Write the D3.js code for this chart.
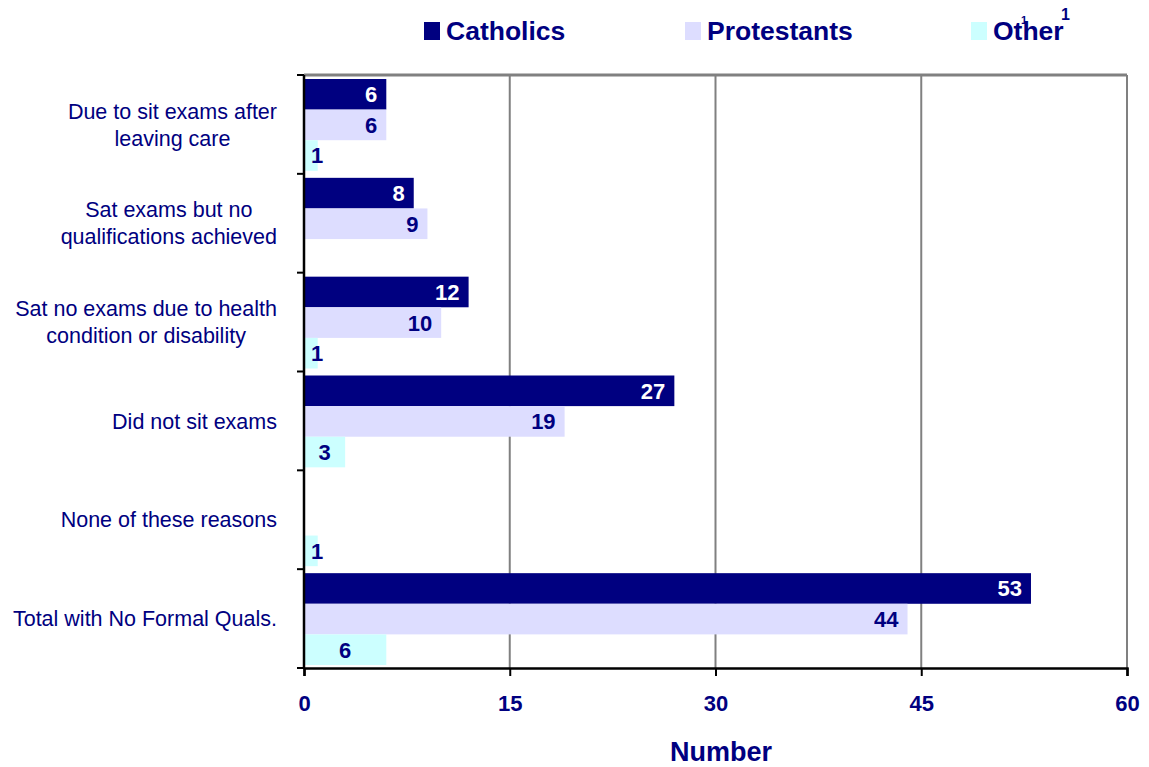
<!DOCTYPE html>
<html>
<head>
<meta charset="utf-8">
<script src="https://cdnjs.cloudflare.com/ajax/libs/d3/7.8.5/d3.min.js"></script>
<style>
  body { margin: 0; background: #fff; }
  text { font-family: "Liberation Sans", Arial, sans-serif; fill: #000080; }
</style>
</head>
<body>
<div id="chart"></div>
<script>
// data
var categories = [
    "Due to sit exams after|leaving care",
    "Sat exams but no|qualifications achieved",
    "Sat no exams due to health|condition or disability",
    "Did not sit exams",
    "None of these reasons",
    "Total with No Formal Quals."
];
var series = ["Catholics", "Protestants", "Other"];
var catholics = [6, 8, 12, 27, null, 53];
var protestants = [6, 9, 10, 19, null, 44];
var other = [1, null, 1, 3, 1, 6];
var xTicks = [0, 15, 30, 45, 60];

var width = 1149, height = 767;
var margin = {top: 75, right: 22, bottom: 99, left: 304};

var svg = d3.select("#chart").append("svg")
    .attr("width", width)
    .attr("height", height);

var x = d3.scaleLinear()
    .domain([0, 60])
    .range([margin.left, width - margin.right]);

var y0 = d3.scaleBand()
    .domain(categories)
    .range([margin.top, height - margin.bottom]);

var y1 = d3.scaleBand()
    .domain(series)
    .range([4, y0.bandwidth() - 3]);

var colors = {Catholics: "#000080", Protestants: "#DDDDFF", Other: "#CCFFFF"};
var values = {Catholics: catholics, Protestants: protestants, Other: other};

// gridlines
svg.append("g")
    .selectAll("line")
    .data(xTicks.slice(1))
    .enter().append("line")
    .attr("x1", function (d) { return x(d); })
    .attr("x2", function (d) { return x(d); })
    .attr("y1", margin.top)
    .attr("y2", height - margin.bottom)
    .attr("stroke", "#808080")
    .attr("stroke-width", 2);
svg.append("line")
    .attr("x1", x(0)).attr("x2", x(60))
    .attr("y1", margin.top).attr("y2", margin.top)
    .attr("stroke", "#808080")
    .attr("stroke-width", 3);

// bars
var rows = [];
categories.forEach(function (c, i) {
    series.forEach(function (s) {
        if (values[s][i] != null) rows.push({cat: c, s: s, v: values[s][i]});
    });
});

svg.append("g")
    .selectAll("rect")
    .data(rows)
    .enter().append("rect")
    .attr("x", x(0))
    .attr("y", function (d) { return y0(d.cat) + y1(d.s); })
    .attr("width", function (d) { return x(d.v) - x(0); })
    .attr("height", y1.bandwidth())
    .attr("fill", function (d) { return colors[d.s]; });

// value labels (Other centred, the rest at inside end)
svg.append("g")
    .selectAll("text")
    .data(rows)
    .enter().append("text")
    .attr("x", function (d) {
        if (d.s == "Other") return Math.max((x(0) + x(d.v)) / 2, x(0) + 13);
        return x(d.v) - 9;
    })
    .attr("y", function (d) { return y0(d.cat) + y1(d.s) + y1.bandwidth() / 2; })
    .attr("dy", "0.36em")
    .attr("text-anchor", function (d) { return d.s == "Other" ? "middle" : "end"; })
    .style("font-size", "22px")
    .style("font-weight", "bold")
    .style("fill", function (d) { return d.s == "Catholics" ? "#fff" : "#000080"; })
    .text(function (d) { return d.v; });

// axes
var xAxis = svg.append("g")
    .attr("transform", "translate(0," + (height - margin.bottom) + ")")
    .call(d3.axisBottom(x).tickValues(xTicks).tickSize(8).tickPadding(19));
xAxis.select(".domain").attr("stroke", "#000").attr("stroke-width", 2.5);
xAxis.selectAll(".tick line").attr("stroke", "#000").attr("stroke-width", 2);
xAxis.selectAll("text")
    .style("font-family", "'Liberation Sans', Arial, sans-serif")
    .style("font-size", "22px")
    .style("font-weight", "bold")
    .style("fill", "#000080");

var yEdges = categories.map(function (c) { return y0(c); }).concat([height - margin.bottom]);
svg.append("line")
    .attr("x1", x(0)).attr("x2", x(0))
    .attr("y1", margin.top).attr("y2", height - margin.bottom)
    .attr("stroke", "#000").attr("stroke-width", 2.5);
svg.append("g")
    .selectAll("line")
    .data(yEdges)
    .enter().append("line")
    .attr("x1", x(0) - 7).attr("x2", x(0))
    .attr("y1", function (d) { return d; })
    .attr("y2", function (d) { return d; })
    .attr("stroke", "#000").attr("stroke-width", 2);

// category labels: block right-aligned, lines centred inside it
var labelRight = 277, lineH = 27;
categories.forEach(function (c) {
    var lines = c.split("|");
    var g = svg.append("g");
    var cy = y0(c) + y0.bandwidth() / 2;
    var texts = lines.map(function (l, i) {
        return g.append("text")
            .attr("y", cy + (i - (lines.length - 1) / 2) * lineH)
            .attr("dy", "0.36em")
            .attr("text-anchor", "middle")
            .style("font-size", "21.5px")
            .text(l);
    });
    var w = d3.max(texts, function (t) { return t.node().getComputedTextLength(); });
    texts.forEach(function (t) { t.attr("x", labelRight - w / 2); });
});

// x axis title
svg.append("text")
    .attr("x", 721)
    .attr("y", 761)
    .attr("text-anchor", "middle")
    .style("font-size", "27px")
    .style("font-weight", "bold")
    .text("Number");

// legend
var legendX = {Catholics: 424, Protestants: 685, Other: 971};
var legend = svg.append("g");
series.forEach(function (s) {
    legend.append("rect")
        .attr("x", legendX[s]).attr("y", 22)
        .attr("width", 16).attr("height", 18)
        .attr("fill", colors[s]);
    legend.append("text")
        .attr("x", legendX[s] + 22)
        .attr("y", 40)
        .style("font-size", "26.5px")
        .style("font-weight", "bold")
        .text(s);
});
legend.append("text")
    .attr("x", 1061).attr("y", 20)
    .style("font-size", "16px")
    .style("font-weight", "bold")
    .text("1");
legend.append("text")
    .attr("x", 1021).attr("y", 24)
    .style("font-size", "11px")
    .style("font-weight", "bold")
    .text("1");
</script>
</body>
</html>
